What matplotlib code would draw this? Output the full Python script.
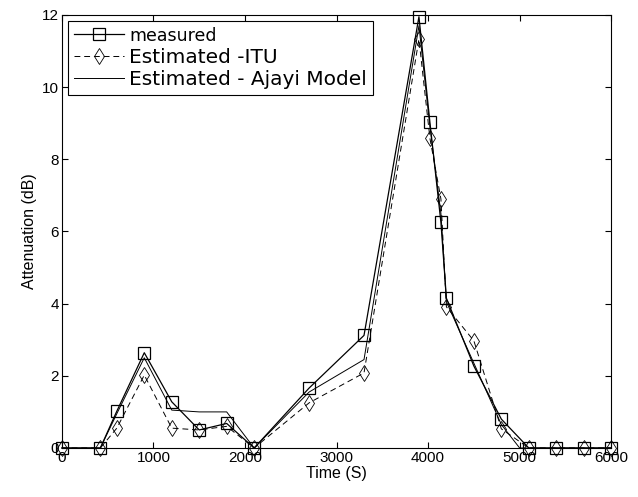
import numpy as np
import matplotlib.pyplot as plt

plt.rcParams['font.family'] = ['Liberation Sans', 'DejaVu Sans']

# time [s]
t = [0, 420, 600, 900, 1200, 1500, 1800, 2100, 2700, 3300, 3900,
     4020, 4140, 4200, 4500, 4800, 5100, 5400, 5700, 6000]

# measured attenuation [dB]
measured = [0, 0, 1.02, 2.64, 1.28, 0.5, 0.68, 0, 1.66, 3.12, 11.95,
            9.02, 6.25, 4.15, 2.27, 0.8, 0, 0, 0, 0]

# estimated - ITU
itu = [0, 0, 0.55, 2.02, 0.55, 0.5, 0.6, 0, 1.25, 2.08, 11.33,
       8.58, 6.9, 3.91, 2.97, 0.53, 0, 0, 0, 0]

# estimated - Ajayi model
t_aj = [0, 420, 600, 900, 1200, 1500, 1800, 2100, 2700, 3300, 3900,
        4020, 4140, 4200, 4500, 4800, 5000, 5100, 5400, 5700, 6000]
ajayi = [0, 0, 0.95, 2.5, 1.05, 1.0, 1.0, 0, 1.55, 2.45, 11.7,
         8.9, 6.5, 4.05, 2.35, 0.65, 0, 0, 0, 0, 0]

fig = plt.figure(figsize=(6.38, 4.97), dpi=100)
ax = fig.add_axes([0.097, 0.0986, 0.861, 0.8714])

ax.plot(t, measured, 'k-', marker='s', markersize=8, markerfacecolor='none',
        markeredgewidth=0.9, linewidth=0.9, label='measured', clip_on=False)
ax.plot(t, itu, 'k--', marker='d', markersize=8, markerfacecolor='none',
        markeredgewidth=0.6, linewidth=0.7, dashes=(6, 4), label='Estimated -ITU',
        clip_on=False)
ax.plot(t_aj, ajayi, 'k-', linewidth=0.7, label='Estimated - Ajayi Model', clip_on=False)

ax.set_xlim(0, 6000)
ax.set_ylim(0, 12)
ax.set_xticks(np.arange(0, 6001, 1000))
ax.set_yticks(np.arange(0, 13, 2))
ax.tick_params(direction='in', top=True, right=True, labelsize=11, length=4, pad=2)
ax.set_xlabel("Time (S)", fontsize=11.5, labelpad=1)
ax.set_ylabel("Attenuation (dB)", fontsize=11.5, labelpad=4)

leg = ax.legend(loc='upper left', prop={'family': 'DejaVu Sans', 'size': 14.5},
                fancybox=False, framealpha=1, edgecolor='k', borderaxespad=0.3,
                handlelength=2.5, handletextpad=0.25, labelspacing=0.15,
                borderpad=0.3)
leg.get_frame().set_linewidth(0.8)
leg.get_texts()[0].set_fontsize(12.5)

plt.savefig("out.png", dpi=100)
